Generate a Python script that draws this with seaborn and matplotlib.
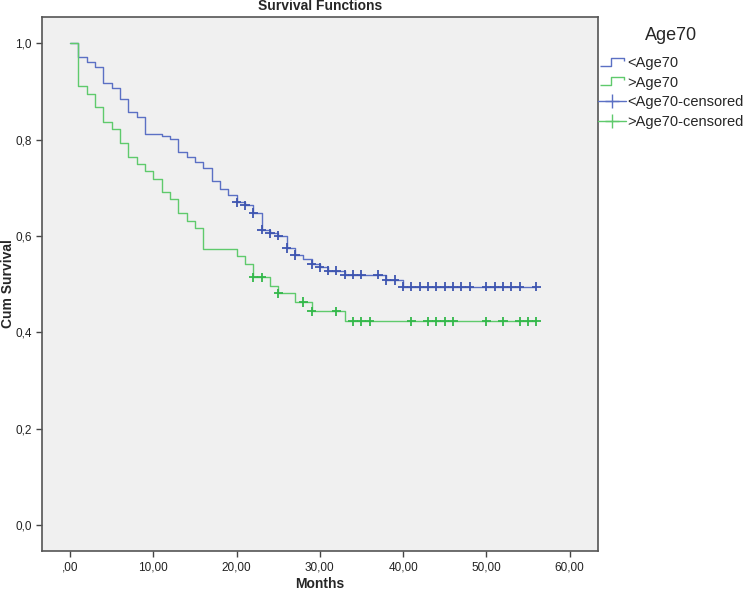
import matplotlib
matplotlib.use("Agg")
import matplotlib.pyplot as plt
from matplotlib.lines import Line2D
from matplotlib.path import Path
import seaborn as sns
import pandas as pd

# Kaplan-Meier steps
young_times = [0, 1, 2, 3, 4, 5, 6, 7, 8, 9, 11, 12, 13, 14, 15, 16, 17, 18, 19,
               20, 21, 22, 23, 24, 25, 26, 27, 28, 29, 30, 31, 33, 38, 40]
young_surv = [1.0, 0.972, 0.961, 0.951, 0.917, 0.907, 0.885, 0.857, 0.847, 0.813,
              0.808, 0.802, 0.774, 0.765, 0.753, 0.742, 0.715, 0.698, 0.686,
              0.670, 0.664, 0.648, 0.613, 0.606, 0.601, 0.575, 0.561, 0.553,
              0.541, 0.535, 0.528, 0.520, 0.509, 0.495]
young_censored = [20, 21, 22, 23, 24, 25, 26, 27, 29, 30, 31, 32, 33, 34, 35, 37,
                  38, 39, 40, 41, 42, 43, 44, 45, 46, 47, 48, 50, 51, 52, 53, 54, 56]

old_times = [0, 1, 2, 3, 4, 5, 6, 7, 8, 9, 10, 11, 12, 13, 14, 15, 16,
             20, 21, 22, 24, 25, 27, 29, 33]
old_surv = [1.0, 0.911, 0.896, 0.868, 0.837, 0.823, 0.794, 0.764, 0.750, 0.735,
            0.719, 0.691, 0.676, 0.647, 0.632, 0.617, 0.573,
            0.558, 0.543, 0.514, 0.497, 0.481, 0.463, 0.444, 0.423]
old_censored = [22, 23, 25, 28, 29, 32, 34, 35, 36, 41, 43, 44, 45, 46,
                50, 52, 54, 55, 56]

last_month = 56
groups = ["<Age70", ">Age70"]
x_ticks = [0, 10, 20, 30, 40, 50, 60]
x_tick_labels = [",00", "10,00", "20,00", "30,00", "40,00", "50,00", "60,00"]
y_ticks = [0.0, 0.2, 0.4, 0.6, 0.8, 1.0]
y_tick_labels = ["0,0", "0,2", "0,4", "0,6", "0,8", "1,0"]

line_colors = {"<Age70": "#5b70c4", ">Age70": "#5fca6c"}
mark_colors = {"<Age70": "#3e55b0", ">Age70": "#33b84a"}


def surv_at(times, surv, t):
    s = surv[0]
    for ti, si in zip(times, surv):
        if ti <= t:
            s = si
    return s


step_rows = []
cens_rows = []
for g, times, surv, cens in [("<Age70", young_times, young_surv, young_censored),
                             (">Age70", old_times, old_surv, old_censored)]:
    for t, s in zip(times, surv):
        step_rows.append({"Months": t, "Cum Survival": s, "group": g})
    step_rows.append({"Months": last_month, "Cum Survival": surv[-1], "group": g})
    for t in cens:
        cens_rows.append({"Months": t, "Cum Survival": surv_at(times, surv, t), "group": g})
steps_df = pd.DataFrame(step_rows)
cens_df = pd.DataFrame(cens_rows)

sns.set_style("ticks")
plt.rcParams["font.family"] = ["Liberation Sans", "DejaVu Sans"]

fig = plt.figure(figsize=(7.44, 5.92), dpi=100)
ax = fig.add_axes([42 / 744, 1 - 551 / 592, 556 / 744, 534 / 592])
ax.set_facecolor("#f0f0f0")

sns.lineplot(data=steps_df, x="Months", y="Cum Survival", hue="group",
             palette=line_colors, estimator=None, drawstyle="steps-post",
             linewidth=1.0, legend=False, ax=ax)
sns.scatterplot(data=cens_df, x="Months", y="Cum Survival", hue="group",
                palette=mark_colors, marker="+", s=45, linewidth=1.3,
                legend=False, ax=ax, zorder=3)

ax.set_xlim(-3.36, 63.4)
ax.set_ylim(-0.054, 1.055)
ax.set_xticks(x_ticks)
ax.set_xticklabels(x_tick_labels, fontsize=8.5)
ax.set_yticks(y_ticks)
ax.set_yticklabels(y_tick_labels, fontsize=8.5)
ax.tick_params(direction="out", length=4, width=1, color="#444444", labelcolor="#222222")
for sp in ax.spines.values():
    sp.set_visible(True)
    sp.set_color("#555555")
    sp.set_linewidth(1.2)

ax.set_xlabel("")
ax.set_ylabel("")
fig.text(320 / 744, 1 - 584 / 592, "Months", ha="center", va="center",
         fontsize=10, fontweight="bold")
fig.text(8 / 744, 1 - 284 / 592, "Cum Survival", ha="center", va="center",
         rotation=90, fontsize=10, fontweight="bold")
fig.text(320 / 744, 1 - 6 / 592, "Survival Functions", ha="center", va="center",
         fontsize=10, fontweight="bold")
fig.text(671 / 744, 1 - 36 / 592, "Age70", ha="center", va="center", fontsize=13)

step_path = Path([(-1, -0.3), (-0.05, -0.3), (-0.05, 0.3), (1, 0.3), (1, 0.05)])
handles = [
    Line2D([], [], linestyle="none", marker=step_path, markersize=17,
           markerfacecolor="none", markeredgecolor=line_colors["<Age70"], markeredgewidth=1),
    Line2D([], [], linestyle="none", marker=step_path, markersize=17,
           markerfacecolor="none", markeredgecolor=line_colors[">Age70"], markeredgewidth=1),
    Line2D([], [], color=line_colors["<Age70"], linewidth=1, marker="+", markersize=10),
    Line2D([], [], color=line_colors[">Age70"], linewidth=1, marker="+", markersize=10),
]
labels = ["<Age70", ">Age70", "<Age70-censored", ">Age70-censored"]
fig.legend(handles, labels, loc="upper left",
           bbox_to_anchor=(598 / 744, 1 - 56 / 592), frameon=False,
           fontsize=10.5, handlelength=1.9, handletextpad=0.1,
           labelspacing=0.38, borderpad=0, borderaxespad=0, numpoints=1)

fig.savefig("out.png", dpi=100)
